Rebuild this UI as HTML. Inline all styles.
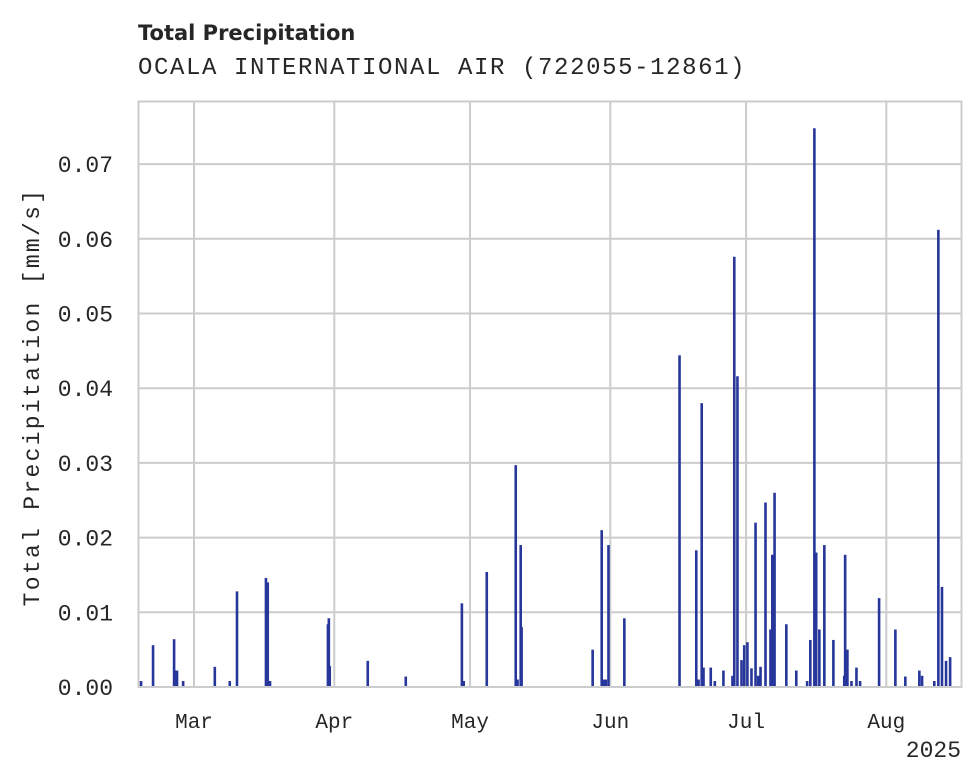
<!DOCTYPE html>
<html><head><meta charset="utf-8"><style>
body{margin:0;background:#fff;width:980px;height:783px;overflow:hidden}
svg{display:block}
</style></head><body>
<svg id="chart" width="980" height="783">
<text x="138" y="40" font-family="DejaVu Sans, sans-serif" font-weight="bold" font-size="21" fill="#262626">Total Precipitation</text>
<text x="138" y="74" font-family="Liberation Mono, monospace" font-size="24" letter-spacing="1.6" fill="#262626">OCALA INTERNATIONAL AIR (722055-12861)</text>
<g id="grid"></g>
<g id="bars"></g>
<rect x="138.5" y="101.5" width="823" height="585.5" fill="none" stroke="#ccc" stroke-width="2"/>
<g id="ticks"></g>
<text transform="translate(39,397) rotate(-90)" text-anchor="middle" font-family="Liberation Mono, monospace" font-size="23" letter-spacing="2.3" fill="#262626">Total Precipitation [mm/s]</text>
<text x="961" y="757" text-anchor="end" font-family="Liberation Mono, monospace" font-size="23" fill="#262626">2025</text>
</svg>
<script>
// days since Mar 1 2025
const days=[-11.7,-9.05,-4.4,-4.2,-3.75,-2.4,4.6,7.9,9.5,15.9,16.3,16.8,29.6,29.8,30.0,38.4,46.8,59.2,59.6,64.7,71.1,71.5,72.2,72.4,88.1,90.1,90.5,91.0,91.6,95.1,107.3,111.0,111.5,112.2,112.6,114.2,115.1,117.0,119.0,119.4,120.1,121.0,121.6,122.3,123.2,124.1,124.7,125.2,126.3,127.4,127.8,128.3,130.9,133.1,135.5,136.2,137.1,137.5,138.2,139.3,141.3,143.7,143.9,144.4,145.3,146.4,147.2,151.4,155.0,157.2,160.3,160.9,163.6,164.5,165.3,166.2,167.1];
const precip=[0.0008,0.0056,0.0064,0.0022,0.0022,0.0008,0.0027,0.0008,0.0128,0.0146,0.014,0.0008,0.0084,0.0092,0.0028,0.0035,0.0014,0.0112,0.0008,0.0154,0.0297,0.001,0.019,0.008,0.005,0.021,0.001,0.001,0.019,0.0092,0.0444,0.0183,0.001,0.038,0.0026,0.0026,0.0008,0.0022,0.0015,0.0576,0.0416,0.0036,0.0056,0.006,0.0025,0.022,0.0015,0.0027,0.0247,0.0077,0.0177,0.026,0.0084,0.0022,0.0008,0.0063,0.0748,0.018,0.0077,0.019,0.0063,0.0015,0.0177,0.005,0.0008,0.0026,0.0008,0.0119,0.0077,0.0014,0.0022,0.0015,0.0008,0.0612,0.0134,0.0035,0.004];
const yTicks=[0,0.01,0.02,0.03,0.04,0.05,0.06,0.07];
const yTickLabels=["0.00","0.01","0.02","0.03","0.04","0.05","0.06","0.07"];
const monthDays=[0,31,61,92,122,153];
const monthLabels=["Mar","Apr","May","Jun","Jul","Aug"];
const NS="http://www.w3.org/2000/svg";
const X0=194,PX_PER_DAY=4.525,Y0=687,PX_PER_UNIT=7470;
const xs=d=>X0+d*PX_PER_DAY;
const ys=v=>Y0-v*PX_PER_UNIT;
const grid=document.getElementById('grid'),bars=document.getElementById('bars'),ticks=document.getElementById('ticks');
function mk(t,a){const e=document.createElementNS(NS,t);for(const k in a)e.setAttribute(k,a[k]);return e;}
yTicks.forEach((v,i)=>{
 const l=mk('line',{x1:138,x2:962,y1:ys(v),y2:ys(v),stroke:'#ccc','stroke-width':2});
 
 
 grid.appendChild(l);
 const t=mk('text',{x:113,y:ys(v)+8,'text-anchor':'end','font-family':'Liberation Mono, monospace','font-size':23,fill:'#262626'});
 t.textContent=yTickLabels[i];
 
 
 ticks.appendChild(t);
});
monthDays.forEach((d,i)=>{
 const l=mk('line',{x1:xs(d),x2:xs(d),y1:101,y2:687,stroke:'#ccc','stroke-width':2});
 
 
 grid.appendChild(l);
 const t=mk('text',{x:xs(d),y:728,'text-anchor':'middle','font-family':'Liberation Mono, monospace','font-size':21,fill:'#262626'});
 t.textContent=monthLabels[i];
 
 
 ticks.appendChild(t);
});
days.forEach((d,i)=>{
 const y=ys(precip[i]);
 const r=mk('rect',{x:xs(d)-1.3,y:y,width:2.6,height:Y0-y,fill:'#26369a'});
 
 
 bars.appendChild(r);
});
</script>
</body></html>
